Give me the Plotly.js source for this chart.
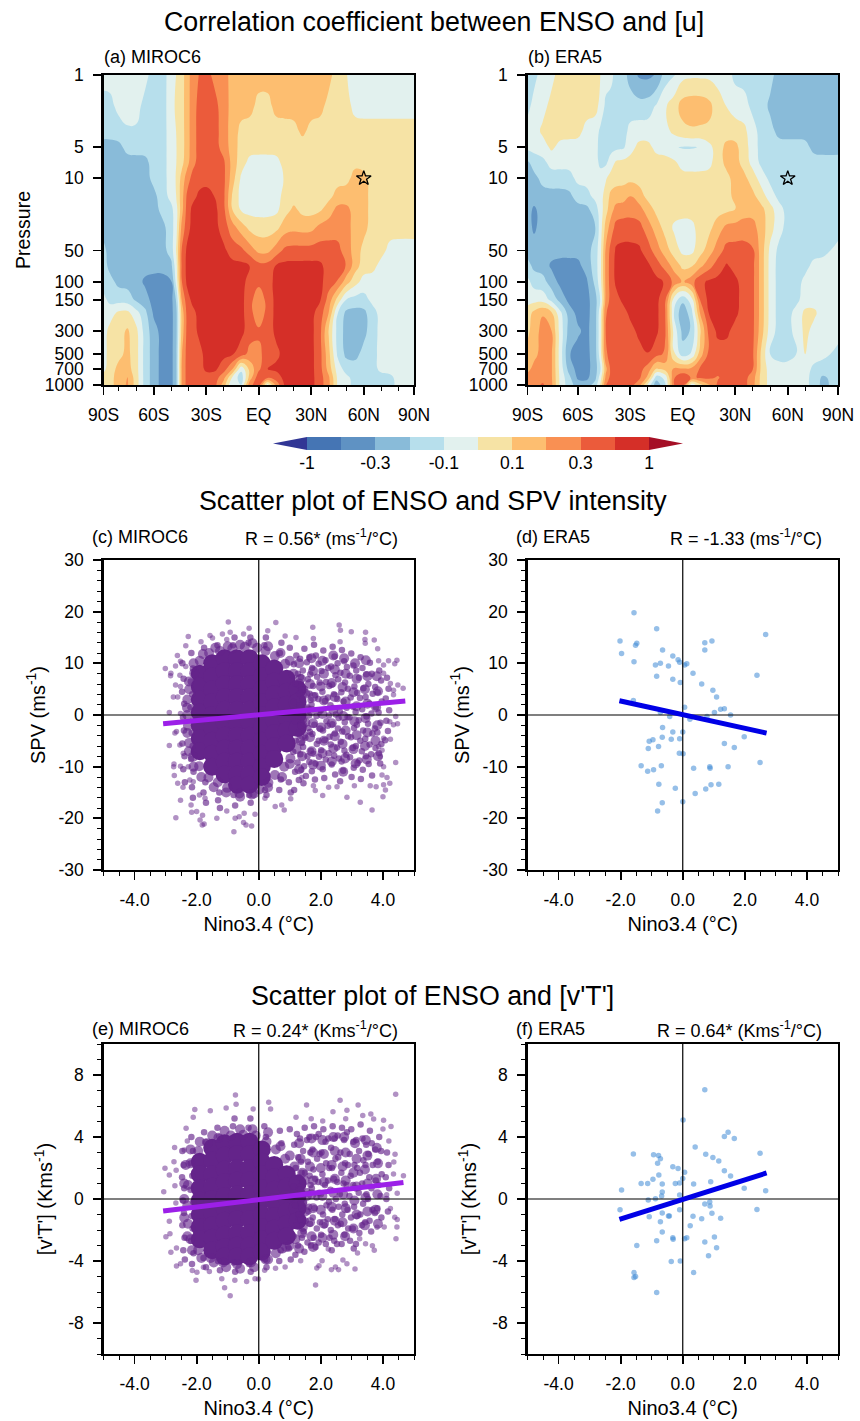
<!DOCTYPE html>
<html>
<head>
<meta charset="utf-8">
<script src="https://cdn.plot.ly/plotly-3.0.1.min.js"></script>
<style>html,body{margin:0;padding:0;background:#fff}#chart{width:860px;height:1421px}</style>
</head>
<body>
<div id="chart"></div>
<script>
// ---------- Latitude / pressure axes of the two correlation maps ----------
const lats = [-88.7,-85,-80,-75,-70,-65,-60,-55,-50, -47,-44,-41,-38,-34,-30,-25, -20,-15,-10,-5, 0,5,10,15,20,25,30,35,40,45, 50,55,60,65,70,75,80,88.7];
const pressures = [1,2,3.5,5,7,10,15,20,30,50,70,100,150,200,300,500,700,850,1000];
const levels = [-1,-0.5,-0.3,-0.2,-0.1,0,0.1,0.2,0.3,0.5,1];
const levelLabels = ['-1','-0.3','-0.1','0.1','0.3','1'];
const bandColors = ['#313695','#4575b4','#5f92c3','#89bbd9','#b7dfec','#e2f1ee','#f6e3a5','#fdbe70','#f99053','#eb5b3b','#d52f28','#a50f26'];

// Correlation x100, rows top (1 hPa) to bottom (1000 hPa)
const corrMiroc = [
[-5,-5,-5,-5,-5,-5,-15,-15,-5, 0,5,15,25,30,40,25, 25,15,15,15, 15,15,15,15,15,15,15,15,15,5, 0,-5,-5,-5,-5,-5,-5,-5],
[-15,-15,-5,-5,-5,-15,-15,-15,-5, 5,5,15,25,40,40,40, 25,15,15,15, 5,5,15,15,15,15,15,15,5,5, 5,-5,-5,-5,-5,-5,-5,-5],
[-15,-15,-15,-11,-11,-15,-15,-15,-5, 0,5,15,25,40,40,40, 25,15,5,5, 5,5,5,5,5,15,5,5,5,5, 5,5,5,5,5,5,5,5],
[-25,-25,-25,-15,-15,-15,-15,-15,-5, 0,5,15,25,40,40,40, 25,15,5,5, 5,5,5,5,5,5,5,5,5,5, 5,5,5,5,5,5,5,5],
[-25,-25,-25,-25,-25,-25,-15,-15,-5, 0,5,15,25,40,40,40, 40,15,5,-5, -5,-5,-5,5,5,5,5,5,5,5, 5,8,5,5,5,5,5,5],
[-25,-25,-25,-25,-25,-25,-15,-15,-5, 0,15,25,40,40,45,40, 40,15,-5,-5, -5,-5,-5,0,5,5,5,5,5,5, 5,15,15,5,5,5,5,5],
[-25,-25,-25,-25,-25,-25,-25,-15,-5, 0,15,40,40,70,70,50, 40,5,-5,-5, -5,-5,-5,5,5,5,5,5,5,15, 15,15,15,5,5,5,5,5],
[-25,-25,-25,-25,-25,-25,-25,-15,-15, -5,15,40,70,70,70,70, 40,5,-5,-5, -5,-5,-5,5,15,5,5,5,15,25, 25,15,15,5,5,5,5,5],
[-25,-25,-25,-25,-25,-25,-25,-25,-15, -5,25,40,70,70,70,70, 40,25,15,5, 5,5,5,15,15,15,15,25,25,25, 25,15,15,5,5,5,5,5],
[-15,-25,-25,-25,-25,-25,-25,-25,-15, 0,40,70,70,70,70,70, 70,40,40,25, 15,15,25,40,40,40,40,40,40,40, 25,15,5,5,5,-5,-5,-5],
[-15,-25,-25,-25,-25,-25,-25,-25,-25, -5,40,70,70,70,70,70, 70,70,70,70, 40,40,70,70,70,70,70,70,40,40, 40,15,5,5,-5,-5,-5,-5],
[-15,-15,-25,-25,-25,-40,-40,-40,-40, -5,40,70,70,70,70,70, 70,70,70,40, 40,40,70,70,70,70,70,70,40,40, 15,5,-5,-5,-5,-5,-5,-5],
[-5,-15,-15,-15,-25,-25,-40,-40,-40, -25,25,40,70,70,70,70, 70,70,70,40, 15,40,70,70,70,70,70,70,25,5, -15,-15,-15,-5,-5,-5,-5,-5],
[-5,-5,5,5,-5,-15,-40,-40,-40, -25,15,40,40,70,70,70, 70,70,70,40, 15,40,70,70,70,70,70,40,25,-15, -25,-25,-25,-15,-5,-5,-5,-5],
[-5,5,5,15,5,-15,-25,-40,-40, -25,15,40,40,70,70,70, 70,70,70,40, 40,40,70,70,70,70,70,40,5,-15, -25,-25,-25,-15,-5,-5,-5,-5],
[-5,5,5,15,5,-15,-25,-40,-40, -25,25,40,40,40,70,70, 70,70,70,25, 25,40,40,70,70,70,70,40,15,-15, -25,-25,-15,-15,-5,-5,-5,-5],
[-5,5,15,15,5,-15,-25,-40,-40, -25,25,40,40,40,70,70, 40,25,-25,15, 25,70,70,70,70,70,70,40,15,-5, -15,-15,-15,-15,-5,-5,-5,-5],
[5,5,15,25,5,-15,-25,-40,-40, -25,25,40,40,40,40,40, 25,-5,-25,15, 70,40,40,70,70,70,70,40,25,-5, -5,-15,-15,-15,-15,-15,-5,-5],
[5,5,15,25,5,-15,-25,-40,-40, -25,25,40,40,40,40,40, 15,-15,-15,40, 70,-25,25,70,70,70,70,40,25,-5, -5,-15,-15,-15,-15,-15,-5,-5]
];
// Correlation x100
const corrEra = [
[-15,-15,-5,-5,5,5,5,5,5, 0,-5,-5,-15,-15,-25,-40, -40,-40,-15,-15, -5,-5,-5,-5,-5,-5,-15,-15,-15,-15, -15,-25,-25,-25,-25,-25,-25,-25],
[-15,-5,-5,5,5,5,5,5,5, 0,-15,-15,-15,-15,-15,-15, -15,-5,2,8, 20,20,20,18,5,0,-5,-5,-15,-15, -25,-25,-25,-25,-25,-25,-25,-25],
[-5,-5,5,5,5,5,5,-5,-5, -15,-15,-15,-15,-15,-5,-5, -5,-5,-5,5, 9,11,10,9,5,5,5,5,-5,-15, -15,-25,-25,-25,-25,-25,-25,-25],
[-5,-5,-5,5,-5,-5,-5,-5,-5, -15,-15,-15,-15,-15,-5,5, 5,-5,-5,-15, -15,-15,-15,-5,5,15,15,5,-5,-15, -15,-15,-15,-15,-15,-25,-25,-25],
[-25,-15,-15,-5,-5,-5,-5,-5,-5, -15,-15,-5,5,5,5,5, 5,5,5,5, -5,-5,-5,-5,5,15,15,5,-5,-15, -15,-15,-15,-15,-15,-15,-15,-15],
[-25,-25,-15,-15,-15,-15,-5,-5,-5, -5,0,5,5,5,5,5, 5,5,5,5, 5,5,5,5,5,5,15,15,5,-5, -15,-15,-15,-15,-15,-15,-15,-15],
[-25,-25,-25,-25,-25,-25,-15,-15,-5, -5,5,15,15,15,25,15, 5,5,5,5, 5,5,5,5,5,5,15,15,15,5, -5,-15,-15,-15,-15,-15,-15,-15],
[-25,-40,-25,-25,-25,-25,-25,-25,-15, -5,5,15,25,25,25,25, 15,5,5,5, 5,5,5,5,5,5,5,15,15,15, 5,-5,-15,-15,-15,-15,-15,-15],
[-25,-40,-25,-25,-25,-25,-25,-25,-25, -5,15,25,40,40,40,40, 25,15,5,-5, -5,-5,5,5,15,25,25,25,25,15, 5,-5,-15,-15,-15,-15,-15,-15],
[-25,-25,-25,-25,-25,-25,-25,-25,-15, -5,25,40,70,70,70,70, 40,25,15,5, -5,-5,5,15,25,40,40,40,40,15, -5,-15,-15,-15,-15,-15,-15,-5],
[-15,-25,-25,-40,-40,-40,-40,-25,-15, -5,25,40,70,70,70,70, 70,40,25,15, 5,5,15,25,40,70,40,40,40,15, -5,-15,-15,-15,-15,-5,-5,-5],
[-5,-15,-15,-25,-40,-40,-40,-40,-15, -5,25,40,70,70,70,70, 70,70,70,40, 25,40,70,70,70,70,70,40,40,15, -5,-15,-15,-15,-5,-5,-5,-5],
[-5,-5,-5,-15,-25,-40,-40,-40,-25, -15,25,40,40,70,70,70, 70,70,40,-15, -25,-15,40,70,70,70,70,40,40,15, -5,-15,-15,-15,-5,-5,-5,-5],
[5,15,25,15,-5,-25,-40,-40,-25, -5,40,40,40,40,70,70, 70,70,40,-15, -40,-15,25,70,70,70,70,40,40,15, -5,-15,-15,-5,5,5,-5,-5],
[5,15,25,25,-5,-25,-25,-40,-25, -5,40,40,40,40,40,70, 70,70,40,-5, -25,-25,5,40,70,70,40,40,40,15, -5,-15,-15,-5,5,-5,-5,-5],
[15,15,25,25,-5,-40,-40,-40,-25, -5,40,40,40,40,40,40, 70,40,40,-5, -25,-15,15,40,40,40,40,40,40,5, -15,-15,-15,-15,5,-5,-5,-15],
[15,25,25,25,-5,-25,-40,-40,-25, -15,15,40,40,40,40,40, 25,5,15,25, 25,25,40,40,40,40,40,40,40,5, -5,-5,-5,-5,-5,-15,-15,-15],
[25,25,25,25,-5,-15,-40,-40,-25, -5,25,40,40,40,40,40, 25,-25,-15,40, 70,40,40,40,25,40,40,40,25,5, -5,-5,-5,-5,-5,-15,-25,-15],
[25,25,40,25,-5,-15,-25,-25,-15, 0,40,40,40,40,40,25, -5,-40,-15,40, 70,-25,5,15,40,40,40,40,25,5, -5,-5,-5,-5,-5,-15,-25,-15]
];
const keyPoint = {lat:[60], p:[10]};

// ---------- Scatter data: ERA5 [Nino3.4, value] ----------
const eraSpv = [[-2.02,14.3],[-1.97,11.9],[-1.57,19.8],[-1.48,13.9],[-1.52,13.5],[-1.57,10.3],[-.84,16.7],[-.65,12.6],[-.32,11.4],[-.15,10.7],[-.1,10.2],[-.72,10],[-.88,9.7],[-.46,9.5],[.06,9.7],[.13,9.9],[-.84,7.5],[-.32,6.9],[-.08,6.3],[.33,8.1],[.61,6],[.71,14],[.94,14.3],[.71,12.6],[2.67,15.6],[2.39,7.7],[.97,4.8],[1.09,3.5],[.06,1.5],[1.22,1.1],[1.34,1.2],[1.02,.5],[1.54,0],[-1.59,2.8],[-.72,.5],[-.42,-.3],[.23,-.8],[.78,-.3],[-.65,-2.4],[-.32,-3.3],[0,-3.3],[-.66,-4.3],[-.37,-4.7],[-.1,-4.6],[-.96,-4.8],[-1.08,-5.1],[-.78,-6.1],[-1.11,-6.5],[-.11,-7.4],[.01,-7.5],[1.98,-4.2],[1.34,-5.5],[1.66,-6.3],[2.49,-9.2],[1.46,-10],[.87,-10],[.88,-10.3],[.35,-10.3],[-1.34,-9.8],[-1.13,-10.9],[-.94,-10.6],[-.69,-9.8],[-.77,-13.4],[-.24,-14.2],[.4,-15.2],[.74,-14.3],[.91,-13.5],[1.16,-13.4],[-.66,-17],[0,-16.8],[-.81,-18.6]];
const eraVt = [[.71,7.05],[.01,5.1],[1.46,4.3],[1.34,4.04],[1.66,3.9],[.4,3.35],[-1.59,2.9],[-.94,2.86],[-.78,2.8],[-.72,2.6],[-.81,2.3],[.74,2.88],[.97,2.67],[1.16,2.45],[2.49,2.95],[-.32,2.08],[-.15,1.96],[1.34,1.83],[1.54,1.48],[.06,1.72],[-.77,1.55],[-.96,1.27],[0,1.33],[-1.34,1],[-1.13,1],[-.66,.97],[-.24,1],[-.1,1.03],[.35,.97],[.9,1.12],[-1.97,.58],[1.98,.7],[2.67,.54],[-.66,.45],[-.68,.2],[-.1,.26],[-1.11,-.06],[-.88,.02],[-2.02,-.69],[.71,-.32],[.87,-.2],[.88,-.45],[-.66,-.9],[-.1,-.69],[-.46,-1.1],[-.43,-1.1],[-1.08,-1.14],[-.72,-1.46],[.33,-1.12],[.61,-1.27],[.94,-.92],[1.22,-1.25],[2.39,-.67],[.24,-1.72],[-.66,-2.13],[-.32,-2.5],[-.31,-2.6],[-.84,-2.7],[.06,-2.56],[.13,-2.5],[.71,-2.77],[1.02,-2.45],[1.09,-3.14],[-1.48,-3],[.83,-3.66],[-.37,-4.04],[-.08,-4],[.35,-4.75],[-1.57,-4.75],[-1.52,-5],[-1.57,-5.07],[-.84,-6.04]];

// ---------- Scatter data: MIROC6, outer points read one by one ----------
const mirocSpvOuter = [[-.98,18],[.55,17.9],[1.74,17],[2.59,17.4],[2.63,16.4],[2.98,16.1],[3.44,16],[-.31,16.8],[-.92,16],[-1.17,15.7],[-.49,15.7],[.29,16.3],[-2.27,15.2],[-1.57,15.4],[-1.49,14.9],[3.72,14.5],[3.42,14.6],[3.43,13.9],[-2.35,13.4],[-1.86,14.2],[-1.03,14.6],[3.83,12.8],[2.62,14.2],[1.76,14.8],[1.2,15],[.85,15.3],[-2.62,11.5],[-2.52,10.4],[-3.01,9],[-2.68,9.5],[-2.83,8.1],[-2.84,7.6],[-2.35,9.4],[-2.54,7.7],[-2.68,5.8],[-2.52,5.5],[-2.75,3.5],[-2.61,3.5],[-2.88,.5],[-2.52,.3],[4.45,10.6],[4.38,9.9],[4.18,10.5],[3.86,10.5],[4.02,9.7],[4.02,8.1],[4.24,6.1],[4.48,5.8],[4.34,4.8],[4.65,5.2],[4.34,3.9],[4.41,-.3],[4.47,-1.7],[4.34,-1.9],[4.22,-1.3],[4.24,-4.7],[4.02,-4.5],[3.97,-6.8],[3.86,-6.1],[3.91,-8.1],[4.41,-9.2],[4.02,-10],[3.97,-11.6],[4.13,-12.1],[4.22,-13.2],[4.02,-13.5],[4.08,-14.5],[4,-15.8],[3.78,-13.9],[3.59,-13.7],[3.65,-18.4],[3.27,-16.9],[2.84,-15.9],[3.08,-13.7],[2.52,-13.9],[2.25,-14],[1.76,-13.7],[1.82,-14.6],[2.06,-15.6],[1.39,-12.1],[1.03,-16.2],[.82,-18.4],[.74,-17.4],[.53,-17.7],[.2,-16.1],[-.12,-19.2],[-.23,-21.5],[-.41,-21.3],[-.49,-20.8],[-.8,-22.6],[-.76,-20],[-.63,-19.7],[-.47,-19],[-1.03,-18.6],[-1.35,-20],[-1.82,-21.3],[-1.76,-21.1],[-1.89,-20.3],[-1.81,-19.4],[-2.16,-18.8],[-2,-18.7],[-2.18,-17.4],[-2.52,-16.5],[-2.67,-19.9],[-2.44,-14],[-2.61,-13.2],[-2.72,-11.7],[-2.74,-10],[-2.73,-9.5],[-2.52,-9.9],[-2.88,-5.9],[-2.54,-5.8],[-2.7,-3.5],[-2.65,-3.2],[-2.43,-7.4],[-2.27,-10],[-2.11,-12.9],[-2.22,-12.6],[-1.91,-15.5],[-1.73,-16.1]];
const mirocVtOuter = [[4.41,6.75],[-.75,6.71],[.32,6.24],[1.54,6.06],[2.62,6.37],[3.2,6.06],[2.84,5.72],[2.39,5.63],[-2.06,5.78],[-1.56,5.7],[-1.05,5.87],[-.73,6.11],[-.18,5.81],[.38,5.81],[-2.11,5.27],[-2.34,4.56],[1.2,5.27],[1.69,5.18],[2.06,5.03],[3.61,5.48],[3.35,5.38],[3.7,5.16],[2.8,5.18],[4.02,5.08],[4.26,4.67],[4,4.52],[4.19,3.74],[4.39,2.88],[4.35,2.39],[-2.71,3.33],[-2.3,3.74],[-2.4,3.16],[-3.02,1.98],[-2.73,2.41],[-2.88,1.55],[-3.06,.47],[-2.66,1.85],[-2.7,.86],[-2.67,-.26],[4.66,1.5],[4.34,1.61],[4.46,.37],[4.12,.28],[4.24,-.62],[4.38,-1.18],[4.46,-1.33],[4.45,-1.81],[4.42,-2.56],[4.04,-1.81],[3.81,-1.83],[3.66,-3.01],[3.72,-3.31],[3.44,-2.88],[3.25,-2.56],[3.18,-3.48],[3.1,-4.52],[2.84,-4.17],[2.71,-3.94],[2.57,-4.56],[2.34,-4.56],[2.47,-4.39],[1.87,-4.45],[1.94,-4.3],[1.83,-5.55],[2.04,-3.98],[2.24,-3.23],[-2.88,-1.44],[-2.99,-2.43],[-2.86,-2.24],[-2.83,-3.44],[-2.65,-3.16],[-2.65,-4.32],[-2.52,-4.17],[-2.14,-4.62],[-2.02,-5.25],[-1.99,-4.73],[-1.19,-5.14],[-1.1,-5.72],[-.92,-6.24],[-.77,-5.25],[-.39,-5.33],[-.12,-5.14],[-.01,-5.16],[.19,-4.6],[.54,-4.47],[.85,-4.39],[1.35,-3.98],[-1.59,-4.67],[-1.78,-4.41]];

// MIROC6: estimated points of the crowded mid-field of each cloud
const mirocSpvField = [[1.21,11.5],[1.13,9.8],[1.26,8],[1.18,6.1],[1.3,4.2],[1.12,2.5],[1.24,.6],[1.16,-1.2],[1.28,-3.4],[1.2,-5],[1.11,-7.1],[1.25,-9.2],[1.17,-11],[1.29,-12.6],[1.14,-14.5],
[1.47,12.8],[1.55,10.2],[1.42,8.6],[1.58,6.9],[1.49,5],[1.41,3.1],[1.56,1.2],[1.45,-.9],[1.6,-2.5],[1.5,-4.4],[1.43,-6.2],[1.57,-8],[1.46,-9.9],[1.52,-11.8],[1.44,-13.2],
[1.78,13.6],[1.84,11.5],[1.72,9.1],[1.88,7.4],[1.75,5.6],[1.82,3.8],[1.7,2],[1.86,-.2],[1.79,-1.9],[1.73,-3.7],[1.87,-5.6],[1.76,-7.5],[1.83,-9.4],[1.71,-10.9],[1.81,-12.5],
[2.08,12.5],[2.15,10.6],[2.02,8.5],[2.17,6.4],[2.05,4.5],[2.13,2.7],[2,.9],[2.18,-1.2],[2.07,-3],[2.12,-4.9],[2.01,-6.8],[2.16,-8.6],[2.06,-10.5],[2.11,-12.2],
[2.38,13.2],[2.44,11.3],[2.33,9.4],[2.47,7.7],[2.36,5.9],[2.42,4],[2.31,1.9],[2.48,.1],[2.37,-1.8],[2.45,-3.6],[2.32,-5.7],[2.43,-7.9],[2.35,-9.6],[2.46,-11.5],
[2.68,12.6],[2.75,10.4],[2.63,8.2],[2.78,6.3],[2.66,4.4],[2.73,2.6],[2.61,.7],[2.77,-1.4],[2.69,-3.2],[2.64,-5.2],[2.76,-6.9],[2.67,-9],[2.72,-10.8],[2.62,-12.8],
[2.98,11.9],[3.05,9.6],[2.93,7.6],[3.08,5.5],[2.96,3.4],[3.04,1.6],[2.92,-.5],[3.07,-2.5],[2.97,-4.3],[3.03,-6.4],[2.94,-8.2],[3.06,-10.2],[2.99,-12],
[3.28,11.2],[3.34,9.1],[3.23,7.2],[3.37,5.2],[3.26,3.3],[3.33,1.1],[3.22,-1],[3.36,-3],[3.27,-5],[3.32,-7],[3.24,-8.8],[3.35,-10.6],[3.29,-12.4],
[3.58,10.1],[3.64,8],[3.53,6],[3.67,4.1],[3.56,2.2],[3.63,.3],[3.52,-1.7],[3.66,-3.6],[3.57,-5.7],[3.62,-7.6],[3.54,-9.5],[3.65,-11.7],
[3.88,8.6],[3.94,6.7],[3.83,4.4],[3.96,2.6],[3.86,.5],[3.92,-1.5],[3.82,-3.4],[3.95,-5.6],[3.87,-7.4],[3.91,-9.4],
[4.13,7.2],[4.18,5.1],[4.09,3.2],[4.2,.9],[4.11,-1.1],[4.16,-3.1],[4.07,-4.9],
[1.33,10.9],[1.36,7.3],[1.38,4.9],[1.33,1.9],[1.37,-.3],[1.35,-2.1],[1.39,-5.4],[1.34,-7.6],[1.37,-10.6],[1.63,11.2],[1.66,7.9],[1.64,4.1],[1.67,2.9],[1.62,-.1],[1.65,-3.3],[1.68,-6.9],[1.63,-9.1],
[1.93,9.9],[1.96,6.3],[1.92,3.1],[1.95,.6],[1.97,-2.6],[1.93,-5],[1.94,-8.1],[2.24,9.1],[2.27,5.6],[2.23,3.4],[2.26,-.1],[2.22,-2.1],[2.28,-4.2],[2.25,-7.4],[2.54,10],[2.56,6.9],[2.53,3.1],[2.57,-.6],[2.55,-2.6],[2.52,-6.3],[2.58,-8.4],
[2.84,9.3],[2.87,5.1],[2.83,1.4],[2.86,-.4],[2.88,-4.1],[2.82,-7.7],[3.14,8.6],[3.17,4.3],[3.12,.6],[3.16,-1.9],[3.13,-6],[3.18,-9.3],[3.46,7.9],[3.44,3.5],[3.47,-.3],[3.43,-4.6],[3.45,-8],[3.75,5.4],[3.77,1.5],[3.74,-2.6],[3.76,-6.4],
[-2.46,10],[-2.42,7],[-2.47,4.5],[-2.4,2.2],[-2.44,-.5],[-2.41,-3],[-2.46,-5.5],[-2.39,-8],[-2.43,-10.5],[-2.38,-13],[-2.17,12],[-2.12,9],[-2.19,6.5],[-2.14,4],[-2.2,1.5],[-2.11,-1],[-2.16,-3.5],[-2.13,-6],[-2.18,-8.5],[-2.1,-11],[-2.15,-14],[-2.12,-16],
[-1.76,13],[-1.72,-13],[-1.78,-15],[-1.7,-17],[-1.33,13.5],[-1.27,-15],[-1.31,-16.5],[-1.25,-18],[-.83,13.5],[-.78,15],[-.81,-15.5],[-.76,-17.5],[-.33,14],[-.27,15],[-.31,-15.5],[-.26,-17],[.18,13.5],[.23,15],[.2,-14.5],[.25,-15.5],[.68,12],[.73,14],[.71,-12.5],[.66,-14.5],[1,13],[.97,-13],[1.03,-15]];
const mirocVtField = [[1.23,4.2],[1.14,3.5],[1.27,2.7],[1.19,2],[1.3,1.4],[1.13,.8],[1.25,.2],[1.17,-.4],[1.29,-1],[1.21,-1.7],[1.12,-2.4],[1.26,-3],[1.18,-3.6],
[1.48,4.6],[1.55,3.8],[1.43,3.1],[1.58,2.4],[1.49,1.7],[1.42,1.1],[1.56,.5],[1.46,-.2],[1.6,-.8],[1.51,-1.4],[1.44,-2.1],[1.57,-2.8],[1.47,-3.4],
[1.78,4.7],[1.84,4],[1.73,3.2],[1.88,2.6],[1.76,1.9],[1.82,1.3],[1.71,.7],[1.86,.1],[1.79,-.6],[1.74,-1.2],[1.87,-1.9],[1.77,-2.5],[1.83,-3.1],
[2.08,4.5],[2.15,3.7],[2.02,3],[2.17,2.3],[2.05,1.6],[2.13,.9],[2,.3],[2.18,-.4],[2.07,-1],[2.12,-1.7],[2.01,-2.3],[2.16,-2.9],
[2.38,4.7],[2.44,3.9],[2.33,3.3],[2.47,2.6],[2.36,2],[2.42,1.3],[2.31,.6],[2.48,0],[2.37,-.7],[2.45,-1.3],[2.32,-2],[2.43,-2.7],[2.35,-3.3],
[2.68,4.6],[2.75,3.8],[2.63,3],[2.78,2.3],[2.66,1.7],[2.73,1],[2.61,.3],[2.77,-.3],[2.69,-1],[2.64,-1.6],[2.76,-2.3],[2.67,-2.9],
[2.98,4.5],[3.05,3.7],[2.93,2.9],[3.08,2.2],[2.96,1.5],[3.04,.9],[2.92,.2],[3.07,-.5],[2.97,-1.2],[3.03,-1.9],[2.94,-2.7],[3.06,-3.2],
[3.28,4.8],[3.34,3.9],[3.23,3.1],[3.37,2.5],[3.26,1.7],[3.33,1],[3.22,.4],[3.36,-.3],[3.27,-1],[3.32,-1.7],[3.24,-2.2],
[3.58,4.4],[3.64,3.6],[3.53,2.9],[3.67,2.2],[3.56,1.4],[3.63,.7],[3.52,0],[3.66,-.7],[3.57,-1.4],[3.62,-2.1],
[3.88,4],[3.94,3.1],[3.83,2.4],[3.96,1.6],[3.86,.9],[3.92,.2],[3.82,-.6],[3.95,-1.2],
[4.13,3],[4.18,2.2],[4.09,1.4],[4.2,.7],[4.11,0],[4.16,-.8],
[1.33,3.9],[1.36,2.4],[1.38,1.7],[1.34,.6],[1.37,-.6],[1.35,-1.3],[1.39,-2.5],[1.63,4],[1.66,3],[1.64,1.5],[1.67,.9],[1.62,-.5],[1.65,-1.6],[1.68,-3],
[1.93,4.2],[1.96,2.9],[1.92,1.1],[1.95,.4],[1.97,-1.5],[1.93,-2.8],[2.24,3.9],[2.27,2],[2.23,1.2],[2.26,-.2],[2.22,-1.3],[2.28,-2.5],[2.54,4.1],[2.56,2.7],[2.53,1.1],[2.57,-.5],[2.55,-1.7],[2.52,-2.9],
[2.84,4.3],[2.87,2.2],[2.83,.9],[2.86,-.7],[2.88,-1.9],[3.14,3.8],[3.17,2],[3.12,.7],[3.16,-1.1],[3.13,-2.9],[3.46,3.5],[3.44,2.2],[3.47,.3],[3.43,-1.5],[3.75,3.2],[3.77,1.2],[3.74,-.9],
[-2.46,3.1],[-2.42,2.2],[-2.47,1.4],[-2.4,.7],[-2.44,-.1],[-2.41,-.9],[-2.46,-1.7],[-2.39,-2.5],[-2.43,-3.3],[-2.38,-3.9],[-2.17,4],[-2.12,3.1],[-2.19,2.3],[-2.14,1.5],[-2.2,.6],[-2.11,-.2],[-2.16,-1.1],[-2.13,-1.9],[-2.18,-2.7],[-2.1,-3.5],[-2.15,-4.2],
[-1.76,4.3],[-1.72,3.7],[-1.78,-3.8],[-1.7,-4.4],[-1.33,4.6],[-1.27,4],[-1.31,-4],[-1.25,-4.6],[-.83,4.7],[-.78,5.2],[-.81,-4.1],[-.76,-4.7],[-.33,4.6],[-.27,5.2],[-.31,-4.2],[-.26,-4.7],[.18,4.7],[.23,4],[.2,-3.9],[.25,-4.4],[.68,4.4],[.73,3.6],[.71,-3.3],[.66,-4],[1,4.5],[.97,-3.2],[1.03,-3.9]];

// MIROC6: heavily overlapped zones around the centre of each cloud
const mirocSpvDense = [[1.3,10],[1.35,7],[1.4,4],[1.35,1],[1.4,-2],[1.35,-5],[1.4,-8],[1.3,-10.5],
[1.7,11],[1.75,8.5],[1.65,6],[1.75,3.5],[1.7,.8],[1.75,-1.6],[1.65,-4.3],[1.7,-7],[1.75,-9.6],
[2.05,10.5],[2.1,8],[2,5.5],[2.1,2.8],[2.05,.2],[2,-2.4],[2.1,-5],[2.05,-7.4],[2,-9.8],
[2.4,11.5],[2.45,8.8],[2.35,6.2],[2.45,3.5],[2.4,1],[2.35,-1.6],[2.45,-4.1],[2.4,-6.5],[2.35,-9],
[2.75,11],[2.8,8],[2.7,5.4],[2.8,2.6],[2.72,-.2],[2.8,-3],[2.7,-5.6],[2.78,-8.4],[2.72,-11],
[3.1,10],[3.15,7],[3.05,4.4],[3.15,1.7],[3.08,-1.2],[3.15,-3.9],[3.05,-6.6],[3.12,-9.4],
[3.45,10.6],[3.5,7.5],[3.42,5],[3.5,2.2],[3.44,-.6],[3.5,-3.4],[3.42,-6],[3.48,-8.6],
[3.8,7.5],[3.84,4.6],[3.78,1.5],[3.82,-2],[3.76,-5],[3.84,-8],
[-2.1,10],[-1.8,11.8],[-1.4,13],[-1,13.3],[-.6,13.6],[-.2,13.9],[.3,13.3],[.7,12],[1,10.5],
[-2.25,6.5],[-2.3,3],[-2.3,0],[-2.3,-3.5],[-2.25,-7],[-2.1,-10],[-1.85,-12],[-1.45,-14],[-1.05,-15],[-.6,-15.8],[-.15,-15.2],[.3,-14],[.75,-12],[1,-9.5],
[-1.9,10.5],[-1.6,12],[-1.25,12.4],[-.85,12.9],[-.45,13.2],[-.05,13],[.22,12.4],[.52,11.4],[.85,9.9],[1.12,8],[1.3,6.1],[1.5,4.1],[1.56,1.1],[1.5,-1.4],[1.42,-3.9],[1.22,-6.6],[1.02,-8.4],[.82,-10],[.52,-11.6],[.31,-13.1],[.02,-14.4],[-.22,-15.4],[-.62,-15.2],[-1.02,-14.1],[-1.32,-13],[-1.62,-12.1],[-1.92,-9.9],[-2.12,-8.1],[-2.24,-5.4],[-2.28,-2.1],[-2.31,1.4],[-2.24,5],[-2.08,8.1]];
const mirocVtDense = [[1.3,3.6],[1.35,2.6],[1.4,1.7],[1.35,.7],[1.4,-.3],[1.35,-1.3],[1.4,-2.2],[1.3,-3.2],
[1.7,3.9],[1.75,3],[1.65,2.1],[1.75,1.2],[1.7,.3],[1.75,-.6],[1.65,-1.5],[1.7,-2.4],[1.75,-3.1],
[2.05,3.8],[2.1,2.9],[2,2],[2.1,1.1],[2.05,.2],[2,-.7],[2.1,-1.6],[2.05,-2.5],
[2.4,4],[2.45,3.1],[2.35,2.2],[2.45,1.3],[2.4,.4],[2.35,-.5],[2.45,-1.4],[2.4,-2.3],
[2.75,4],[2.8,3],[2.7,2.1],[2.8,1.2],[2.72,.3],[2.8,-.6],[2.7,-1.5],[2.78,-2.4],
[3.1,3.6],[3.15,2.6],[3.05,1.7],[3.15,.8],[3.08,-.1],[3.15,-1],[3.05,-1.9],
[3.45,3.8],[3.5,2.8],[3.42,1.9],[3.5,1],[3.44,.1],[3.5,-.8],[3.42,-1.7],
[3.8,3.3],[3.84,2.3],[3.78,1.3],[3.82,.3],[3.76,-.7],[3.84,-1.6],
[-2.2,3.2],[-1.9,3.7],[-1.5,4.1],[-1.1,4.4],[-.6,4.5],[-.2,4.5],[.3,4.3],[.7,3.4],[1,2.8],
[-2.35,2.2],[-2.4,1],[-2.4,0],[-2.4,-1.2],[-2.3,-2.4],[-2.15,-3.3],[-1.85,-3.8],[-1.45,-4.1],[-1.05,-4.4],[-.6,-4.5],[-.15,-4.4],[.3,-3.9],[.75,-3.2],[1,-3],
[-1.95,3.1],[-1.65,3.6],[-1.3,3.95],[-.9,4.1],[-.5,4.15],[-.1,4.1],[.25,3.7],[.55,3.2],[.85,2.6],[1.15,2.1],[1.48,1.2],[1.55,.2],[1.5,-.8],[1.42,-1.8],[1.18,-2.6],[.88,-3.1],[.55,-3.5],[.22,-3.9],[-.25,-4.1],[-.7,-4.2],[-1.15,-4.1],[-1.55,-3.8],[-1.95,-3.3],[-2.2,-2.6],[-2.28,-1.6],[-2.3,-.4],[-2.28,.9],[-2.2,2.3]];

// MIROC6: centre of each cloud, where the points overlap into solid colour
const mirocSpvCore = [[-1.9,8],[-1.9,5.5],[-1.9,3],[-1.9,.5],[-1.9,-2],[-1.9,-4.5],[-1.9,-7],
[-1.5,10],[-1.5,7.5],[-1.5,5],[-1.5,2.5],[-1.5,0],[-1.5,-2.5],[-1.5,-5],[-1.5,-7.5],[-1.5,-10],
[-1.1,11],[-1.1,8.5],[-1.1,6],[-1.1,3.5],[-1.1,1],[-1.1,-1.5],[-1.1,-4],[-1.1,-6.5],[-1.1,-9],[-1.1,-11.5],
[-.7,11],[-.7,8.5],[-.7,6],[-.7,3.5],[-.7,1],[-.7,-1.5],[-.7,-4],[-.7,-6.5],[-.7,-9],[-.7,-11.5],[-.7,-13.5],
[-.3,11],[-.3,8.5],[-.3,6],[-.3,3.5],[-.3,1],[-.3,-1.5],[-.3,-4],[-.3,-6.5],[-.3,-9],[-.3,-11.5],[-.3,-13.5],
[.1,10],[.1,7.5],[.1,5],[.1,2.5],[.1,0],[.1,-2.5],[.1,-5],[.1,-7.5],[.1,-10],[.1,-12],
[.5,9],[.5,6.5],[.5,4],[.5,1.5],[.5,-1],[.5,-3.5],[.5,-6],[.5,-8.5],
[.9,7],[.9,4.5],[.9,2],[.9,-.5],[.9,-3],[.9,-5.5],[1.25,5],[1.25,2.5],[1.25,0],[1.25,-2.5]];
const mirocVtCore = [[-1.9,2.4],[-1.9,1.6],[-1.9,.7],[-1.9,-.1],[-1.9,-1],[-1.9,-1.8],[-1.9,-2.6],
[-1.5,3.3],[-1.5,2.5],[-1.5,1.6],[-1.5,.8],[-1.5,0],[-1.5,-.9],[-1.5,-1.7],[-1.5,-2.5],[-1.5,-3.3],
[-1.1,3.6],[-1.1,2.8],[-1.1,1.9],[-1.1,1.1],[-1.1,.2],[-1.1,-.6],[-1.1,-1.4],[-1.1,-2.3],[-1.1,-3.1],[-1.1,-3.7],
[-.7,3.7],[-.7,2.9],[-.7,2],[-.7,1.2],[-.7,.3],[-.7,-.5],[-.7,-1.3],[-.7,-2.2],[-.7,-3],[-.7,-3.7],
[-.3,3.7],[-.3,2.9],[-.3,2],[-.3,1.2],[-.3,.3],[-.3,-.5],[-.3,-1.3],[-.3,-2.2],[-.3,-3],[-.3,-3.7],
[.1,3.2],[.1,2.4],[.1,1.6],[.1,.7],[.1,-.1],[.1,-1],[.1,-1.8],[.1,-2.6],[.1,-3.4],
[.5,2.2],[.5,1.4],[.5,.6],[.5,-.2],[.5,-1.1],[.5,-1.9],[.5,-2.7],
[.9,1.6],[.9,.8],[.9,0],[.9,-.8],[.9,-1.6],[.9,-2.4],
[1.25,1],[1.25,.2],[1.25,-.6],[1.25,-1.4]];

// Regression lines: end points
const fitX = {c:[-3.08,4.72], d:[-2.04,2.7], e:[-3.08,4.66], f:[-2.04,2.7]};
const fitY = {c:[-1.68,2.7], d:[2.77,-3.5], e:[-.78,1.07], f:[-1.31,1.68]};

// Tick labels
const latTickVals = [-88.7,-60,-30,0,30,60,88.7];
const latTickText = ['90S','60S','30S','EQ','30N','60N','90N'];
const latMinor = [-80,-70,-50,-40,-20,-10,10,20,40,50,70,80];
const pTicks = [1,5,10,50,100,150,300,500,700,1000];
const ninoTickVals = [-4,-2,0,2,4];
const ninoTickText = ['-4.0','-2.0','0.0','2.0','4.0'];
const spvTickVals = [-30,-20,-10,0,10,20,30];
const spvTickText = ['-30','-20','-10','0','10','20','30'];
const vtTickVals = [-8,-4,0,4,8];
const vtTickText = ['-8','-4','0','4','8'];

// ---------- Layout helpers (pixel geometry of the page) ----------
const W = 860, H = 1421;
const px = v => v / W, py = v => 1 - v / H;
const FONT = '"Liberation Sans", Arial, sans-serif';
const TICK = 17.5, LABEL = 18, HEAD = 26.8, AXT = 20;
const left = [103.5, 527.5], right = [414, 838];
const rows = {map:[75,385], spv:[560,870], vt:[1044,1354]};

const band = r => {   // position of a correlation on the equally spaced colour bar
  for (let i = 0; i < levels.length - 1; i++)
    if (r <= levels[i+1]) return i - 5 + (r - levels[i]) / (levels[i+1] - levels[i]);
  return 5;
};
// rounds the corners of the hand-read grid so that contours do not stair-step
const soften = g => {
  const R = g.length, C = g[0].length, at = (r,c) => g[Math.max(0,Math.min(R-1,r))][Math.max(0,Math.min(C-1,c))];
  return g.map((row,r) => row.map((v,c) => {
    let s = 0;
    for (const [dr,wr] of [[-1,1],[0,6],[1,1]]) for (const [dc,wc] of [[-1,1],[0,6],[1,1]]) s += wr*wc*at(r+dr,c+dc);
    return s/64;
  }));
};
const toBand = grid => soften(grid.map(row => row.map(v => band(v / 100))));
const scale = bandColors.map((c, i) => [i / (bandColors.length - 1), c]);

function axisBase(extra) {
  return Object.assign({
    showgrid:false, zeroline:false, showline:true, mirror:true, linecolor:'#000', linewidth:2.2,
    ticks:'outside', ticklen:8, tickwidth:1.8, tickcolor:'#000', tickmode:'array',
    tickfont:{family:FONT, size:TICK, color:'#000'}, automargin:false
  }, extra);
}
const layout = {
  width:W, height:H, margin:{l:0,r:0,t:0,b:0}, paper_bgcolor:'#fff', plot_bgcolor:'#fff',
  showlegend:false, font:{family:FONT, color:'#000'}, annotations:[], shapes:[]
};
const data = [];

function addMap(n, col, grid) {
  const xa = n === 1 ? 'x' : 'x' + n, ya = n === 1 ? 'y' : 'y' + n;
  layout['xaxis' + (n === 1 ? '' : n)] = axisBase({
    domain:[px(left[col]), px(right[col])], anchor:ya, range:[-88.7,88.7],
    tickvals:latTickVals, ticktext:latTickText, ticklabelstandoff:5,
    minor:{ticks:'outside', ticklen:4, tickwidth:1, tickcolor:'#000', tickvals:latMinor}
  });
  layout['yaxis' + (n === 1 ? '' : n)] = axisBase(Object.assign({
    domain:[py(rows.map[1]), py(rows.map[0])], anchor:xa, type:'log', range:[3,0],
    tickvals:pTicks, ticktext:pTicks.map(String), ticklabelstandoff:6
  }, col === 0 ? {title:{text:'Pressure', standoff:9, font:{family:FONT, size:19.5, color:'#000'}}} : {}));
  data.push({
    type:'contour', x:lats, y:pressures, z:toBand(grid), xaxis:xa, yaxis:ya,
    autocontour:false, contours:{start:-5, end:5, size:1, coloring:'fill', showlines:false},
    line:{width:0, smoothing:1.3}, colorscale:scale, showscale:false, hoverinfo:'skip'
  });
  data.push({type:'scatter', mode:'markers', x:keyPoint.lat, y:keyPoint.p, xaxis:xa, yaxis:ya,
    marker:{symbol:'star-open', size:11, color:'#000', line:{width:1.3, color:'#000'}}, hoverinfo:'skip'});
}

function addScatter(n, col, rowKey, yRange, yVals, yText, yMinor, yTitle, standoff) {
  const xa = 'x' + n, ya = 'y' + n;
  layout['xaxis' + n] = axisBase({
    domain:[px(left[col]), px(right[col])], anchor:ya, range:[-5,5],
    tickvals:ninoTickVals, ticktext:ninoTickText, ticklabelstandoff:5,
    title:{text:'Nino3.4 (°C)', standoff:8, font:{family:FONT, size:AXT, color:'#000'}},
    minor:{ticks:'outside', ticklen:4, tickwidth:1, tickcolor:'#000', tick0:0, dtick:0.5}
  });
  layout['yaxis' + n] = axisBase({
    domain:[py(rows[rowKey][1]), py(rows[rowKey][0])], anchor:xa, range:yRange,
    tickvals:yVals, ticktext:yText, ticklabelstandoff:6,
    title:{text:yTitle, standoff:standoff, font:{family:FONT, size:AXT, color:'#000'}},
    minor:{ticks:'outside', ticklen:4, tickwidth:1, tickcolor:'#000', tick0:0, dtick:yMinor}
  });
}
function markers(n, pts, color, size, opacity) {
  data.push({type:'scatter', mode:'markers', x:pts.map(p=>p[0]), y:pts.map(p=>p[1]),
    xaxis:'x'+n, yaxis:'y'+n, marker:{color:color, size:size, opacity:opacity, line:{width:0}}, hoverinfo:'skip'});
}
function crossAndFit(n, yRange, fx, fy, color) {
  data.push({type:'scatter', mode:'lines', x:[0,0], y:yRange, xaxis:'x'+n, yaxis:'y'+n, line:{color:'#000', width:1.2}, hoverinfo:'skip'});
  data.push({type:'scatter', mode:'lines', x:[-5,5], y:[0,0], xaxis:'x'+n, yaxis:'y'+n, line:{color:'#000', width:1.2}, hoverinfo:'skip'});
  data.push({type:'scatter', mode:'lines', x:fx, y:fy, xaxis:'x'+n, yaxis:'y'+n, line:{color:color, width:5}, hoverinfo:'skip'});
}

addMap(1, 0, corrMiroc);
addMap(2, 1, corrEra);

const PURPLE = '#64248a', BLUE = '#3f8ad6', FIT_P = '#9c1fe8', FIT_B = '#0000e6';
const SPV = [-30,30], VT = [-10,10];
const spvT = 'SPV (ms<sup>-1</sup>)', vtT = "[v'T'] (Kms<sup>-1</sup>)";

addScatter(3, 0, 'spv', SPV, spvTickVals, spvTickText, 2, spvT, 8);
markers(3, mirocSpvCore, PURPLE, 18, 1);
markers(3, mirocSpvDense, PURPLE, 10, 0.62);
markers(3, mirocSpvField, PURPLE, 6.5, 0.65);
markers(3, mirocSpvOuter, PURPLE, 5.5, 0.5);
crossAndFit(3, SPV, fitX.c, fitY.c, FIT_P);

addScatter(4, 1, 'spv', SPV, spvTickVals, spvTickText, 2, spvT, 8);
markers(4, eraSpv, BLUE, 5.5, 0.55);
crossAndFit(4, SPV, fitX.d, fitY.d, FIT_B);

addScatter(5, 0, 'vt', VT, vtTickVals, vtTickText, 1, vtT, 10);
markers(5, mirocVtCore, PURPLE, 18, 1);
markers(5, mirocVtDense, PURPLE, 10, 0.62);
markers(5, mirocVtField, PURPLE, 6.5, 0.65);
markers(5, mirocVtOuter, PURPLE, 5.5, 0.5);
crossAndFit(5, VT, fitX.e, fitY.e, FIT_P);

addScatter(6, 1, 'vt', VT, vtTickVals, vtTickText, 1, vtT, 10);
markers(6, eraVt, BLUE, 5.5, 0.55);
crossAndFit(6, VT, fitX.f, fitY.f, FIT_B);

// ---------- Colour bar: one cell per band between the levels ----------
const barCells = bandColors.slice(1, 11);
const barX = barCells.map((c, i) => i - 4.5);
const barZ = [barCells.map((c, i) => i)];
const barScale = barCells.map((c, i) => [i / (barCells.length - 1), c]);
layout.xaxis7 = {
  domain:[px(307), px(649)], anchor:'y7', range:[-5,5], showgrid:false, zeroline:false, showline:false,
  ticks:'', tickmode:'array', tickvals:[-5,-3,-1,1,3,5], ticktext:levelLabels, ticklabelstandoff:0,
  tickfont:{family:FONT, size:17.5, color:'#000'}
};
layout.yaxis7 = {domain:[py(450), py(437)], anchor:'x7', range:[-0.5,0.5], showgrid:false, zeroline:false, showline:false, ticks:'', showticklabels:false};
data.push({type:'heatmap', x:barX, y:[0], z:barZ, xaxis:'x7', yaxis:'y7', colorscale:barScale, zmin:0, zmax:9, showscale:false, hoverinfo:'skip'});

// ---------- Text ----------
function note(text, x, y, size, anchor) {
  layout.annotations.push({text:text, xref:'paper', yref:'paper', x:px(x), y:py(y), xanchor:anchor, yanchor:'middle',
    showarrow:false, font:{family:FONT, size:size, color:'#000'}});
}
note('Correlation coefficient between ENSO and [u]', 434, 22, HEAD, 'center');
note('Scatter plot of ENSO and SPV intensity', 433, 501, HEAD, 'center');
note("Scatter plot of ENSO and [v'T']", 433, 996, HEAD, 'center');
note('(a) MIROC6', 102, 57, LABEL, 'left');
note('(b) ERA5', 526, 57, LABEL, 'left');
note('(c) MIROC6', 90, 537, LABEL, 'left');
note('R = 0.56* (ms<sup>-1</sup>/°C)', 400, 537, LABEL, 'right');
note('(d) ERA5', 514, 537, LABEL, 'left');
note('R = -1.33 (ms<sup>-1</sup>/°C)', 824, 537, LABEL, 'right');
note('(e) MIROC6', 90, 1029, LABEL, 'left');
note('R = 0.24* (Kms<sup>-1</sup>/°C)', 400, 1029, LABEL, 'right');
note('(f) ERA5', 514, 1029, LABEL, 'left');
note('R = 0.64* (Kms<sup>-1</sup>/°C)', 824, 1029, LABEL, 'right');

// Pointed ends of the colour bar
const tri = (tip, base) => `M ${px(tip)} ${py(443.5)} L ${px(base)} ${py(437)} L ${px(base)} ${py(450)} Z`;
layout.shapes.push({type:'path', xref:'paper', yref:'paper', path:tri(273,307), fillcolor:bandColors[0], line:{width:0}});
layout.shapes.push({type:'path', xref:'paper', yref:'paper', path:tri(683,649), fillcolor:bandColors[11], line:{width:0}});

Plotly.newPlot('chart', data, layout, {staticPlot:true, displayModeBar:false});
</script>
</body>
</html>
